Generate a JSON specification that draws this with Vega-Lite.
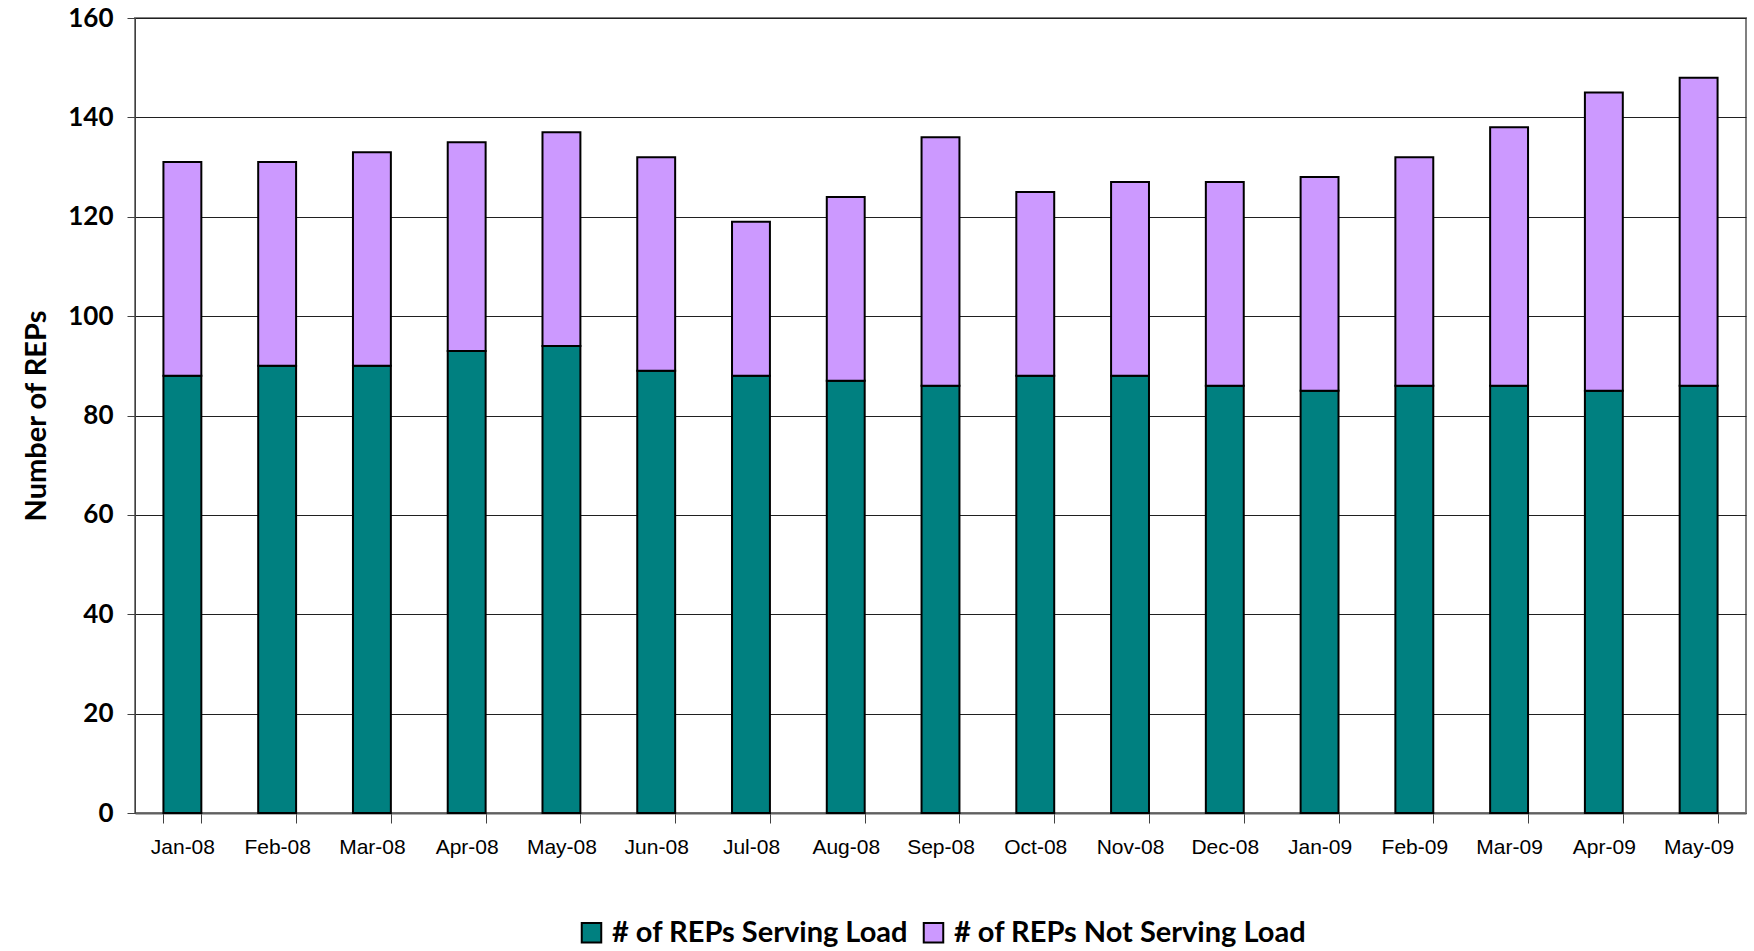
{
  "$schema": "https://vega.github.io/schema/vega-lite/v6.json",
  "width": 1611,
  "height": 795,
  "autosize": {"type": "none"},
  "padding": {"left": 135, "top": 18, "right": 8, "bottom": 138},
  "background": "white",
  "config": {
    "view": {"stroke": "#808080", "strokeWidth": 2},
    "axis": {"grid": false}
  },
  "data": {
    "values": [
      {"month": "Jan-08", "series": "# of REPs Serving Load", "value": 88},
      {"month": "Jan-08", "series": "# of REPs Not Serving Load", "value": 43},
      {"month": "Feb-08", "series": "# of REPs Serving Load", "value": 90},
      {"month": "Feb-08", "series": "# of REPs Not Serving Load", "value": 41},
      {"month": "Mar-08", "series": "# of REPs Serving Load", "value": 90},
      {"month": "Mar-08", "series": "# of REPs Not Serving Load", "value": 43},
      {"month": "Apr-08", "series": "# of REPs Serving Load", "value": 93},
      {"month": "Apr-08", "series": "# of REPs Not Serving Load", "value": 42},
      {"month": "May-08", "series": "# of REPs Serving Load", "value": 94},
      {"month": "May-08", "series": "# of REPs Not Serving Load", "value": 43},
      {"month": "Jun-08", "series": "# of REPs Serving Load", "value": 89},
      {"month": "Jun-08", "series": "# of REPs Not Serving Load", "value": 43},
      {"month": "Jul-08", "series": "# of REPs Serving Load", "value": 88},
      {"month": "Jul-08", "series": "# of REPs Not Serving Load", "value": 31},
      {"month": "Aug-08", "series": "# of REPs Serving Load", "value": 87},
      {"month": "Aug-08", "series": "# of REPs Not Serving Load", "value": 37},
      {"month": "Sep-08", "series": "# of REPs Serving Load", "value": 86},
      {"month": "Sep-08", "series": "# of REPs Not Serving Load", "value": 50},
      {"month": "Oct-08", "series": "# of REPs Serving Load", "value": 88},
      {"month": "Oct-08", "series": "# of REPs Not Serving Load", "value": 37},
      {"month": "Nov-08", "series": "# of REPs Serving Load", "value": 88},
      {"month": "Nov-08", "series": "# of REPs Not Serving Load", "value": 39},
      {"month": "Dec-08", "series": "# of REPs Serving Load", "value": 86},
      {"month": "Dec-08", "series": "# of REPs Not Serving Load", "value": 41},
      {"month": "Jan-09", "series": "# of REPs Serving Load", "value": 85},
      {"month": "Jan-09", "series": "# of REPs Not Serving Load", "value": 43},
      {"month": "Feb-09", "series": "# of REPs Serving Load", "value": 86},
      {"month": "Feb-09", "series": "# of REPs Not Serving Load", "value": 46},
      {"month": "Mar-09", "series": "# of REPs Serving Load", "value": 86},
      {"month": "Mar-09", "series": "# of REPs Not Serving Load", "value": 52},
      {"month": "Apr-09", "series": "# of REPs Serving Load", "value": 85},
      {"month": "Apr-09", "series": "# of REPs Not Serving Load", "value": 60},
      {"month": "May-09", "series": "# of REPs Serving Load", "value": 86},
      {"month": "May-09", "series": "# of REPs Not Serving Load", "value": 62}
    ]
  },
  "mark": {"type": "bar", "stroke": "black", "strokeWidth": 2},
  "encoding": {
    "x": {
      "field": "month",
      "type": "nominal",
      "sort": ["Jan-08","Feb-08","Mar-08","Apr-08","May-08","Jun-08","Jul-08","Aug-08","Sep-08","Oct-08","Nov-08","Dec-08","Jan-09","Feb-09","Mar-09","Apr-09","May-09"],
      "scale": {"paddingInner": 0.6, "paddingOuter": 0.3},
      "axis": {
        "title": null,
        "labelAngle": 0,
        "labelFont": "Liberation Sans",
        "labelFontSize": 21,
        "labelColor": "black",
        "labelPadding": 13,
        "tickBand": "extent",
        "tickSize": 10,
        "tickColor": "#404040",
        "domainColor": "#606060",
        "domainWidth": 2
      }
    },
    "y": {
      "field": "value",
      "type": "quantitative",
      "aggregate": "sum",
      "stack": "zero",
      "scale": {"domain": [0, 160], "nice": false},
      "axis": {
        "title": "Number of REPs",
        "titleFont": "Lato",
        "titleFontWeight": "bold",
        "titleFontSize": 29,
        "titleColor": "black",
        "titlePadding": 16,
        "values": [0, 20, 40, 60, 80, 100, 120, 140, 160],
        "labelFont": "Lato",
        "labelFontWeight": "bold",
        "labelFontSize": 26,
        "labelColor": "black",
        "labelPadding": 14,
        "grid": true,
        "gridColor": "#202020",
        "gridWidth": 1.2,
        "tickSize": 8,
        "tickColor": "#404040",
        "domainColor": "#404040"
      }
    },
    "color": {
      "field": "series",
      "type": "nominal",
      "sort": ["# of REPs Serving Load", "# of REPs Not Serving Load"],
      "scale": {
        "domain": ["# of REPs Serving Load", "# of REPs Not Serving Load"],
        "range": ["#008080", "#CC99FF"]
      },
      "legend": {
        "title": null,
        "orient": "none",
        "legendX": 442,
        "legendY": 900,
        "direction": "horizontal",
        "symbolType": "square",
        "symbolSize": 380,
        "symbolStrokeColor": "black",
        "symbolStrokeWidth": 2,
        "labelFont": "Lato",
        "labelFontWeight": "bold",
        "labelFontSize": 29,
        "labelColor": "black",
        "labelLimit": 600,
        "columnPadding": 10,
        "labelOffset": 6
      }
    },
    "order": {"field": "series", "sort": "descending"}
  }
}
